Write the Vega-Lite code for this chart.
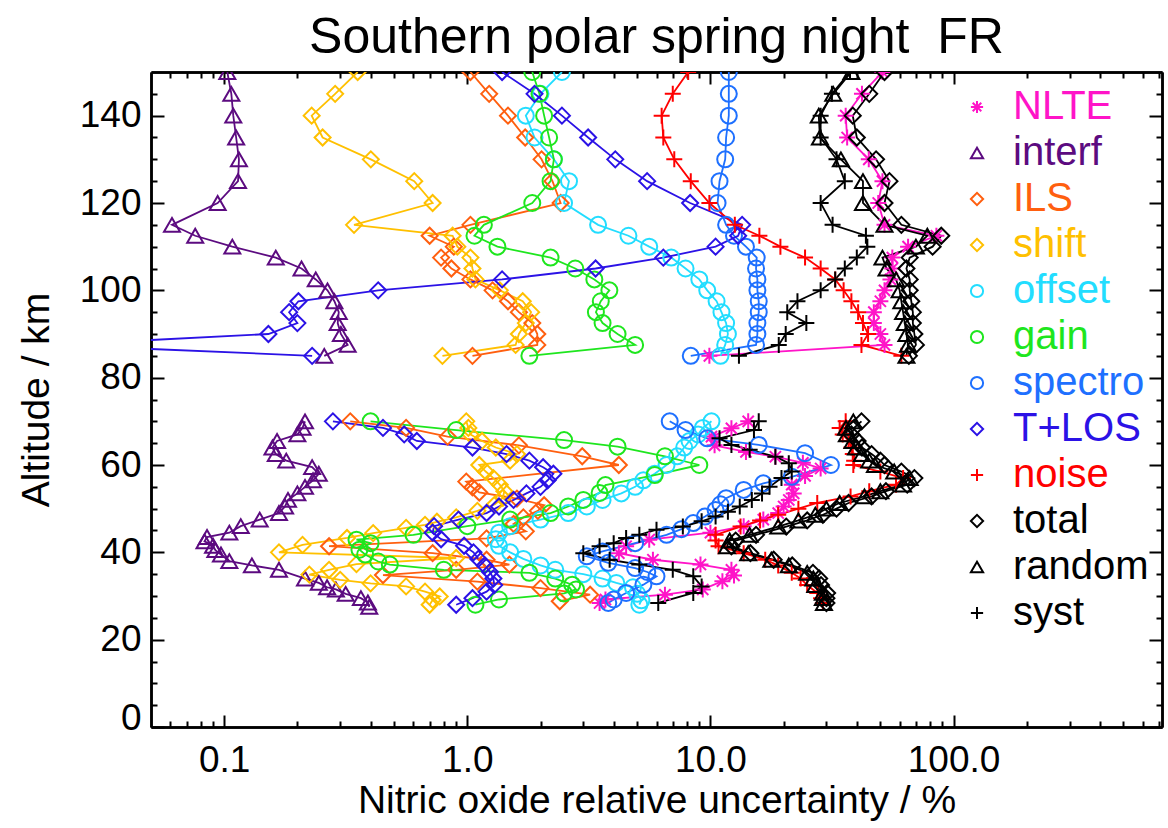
{
"$schema": "https://vega.github.io/schema/vega-lite/v6.json",
"width": 1011, "height": 655,
"autosize": {"type": "none"},
"padding": {"left": 151, "top": 72, "right": 6, "bottom": 101},
"background": "white",
"title": {"text": "Southern polar spring night\u00a0 FR", "fontSize": 50, "font": "Liberation Sans", "fontWeight": "normal", "color": "black", "anchor": "middle", "offset": 8},
"config": {
  "view": {"stroke": null},
  "axis": {"labelFont": "Liberation Sans", "titleFont": "Liberation Sans", "labelFontSize": 37, "titleFontSize": 39, "titleFontWeight": "normal", "labelColor": "black", "titleColor": "black", "domainColor": "black", "tickColor": "black", "domainWidth": 2.5, "tickWidth": 2, "grid": false},
  "legend": {"orient": "none", "legendX": 806, "legendY": 15, "labelFont": "Liberation Sans", "labelFontSize": 40, "symbolSize": 150, "symbolStrokeWidth": 2, "rowPadding": 6, "labelOffset": 16, "labelLimit": 300, "padding": 0}
},
"datasets": {
"ax": [{"v": 1, "a": 50}],
"d": [
{"s":"NLTE","g":"u","a":150,"v":51},{"s":"NLTE","g":"u","a":145,"v":42},{"s":"NLTE","g":"u","a":140,"v":36},{"s":"NLTE","g":"u","a":135,"v":36.5},{"s":"NLTE","g":"u","a":130,"v":44.8},{"s":"NLTE","g":"u","a":125,"v":51},{"s":"NLTE","g":"u","a":120,"v":49},{"s":"NLTE","g":"u","a":115,"v":52},{"s":"NLTE","g":"u","a":112.5,"v":85},{"s":"NLTE","g":"u","a":110,"v":65},{"s":"NLTE","g":"u","a":107.5,"v":56},{"s":"NLTE","g":"u","a":105,"v":56},{"s":"NLTE","g":"u","a":102.5,"v":55},{"s":"NLTE","g":"u","a":100,"v":52},{"s":"NLTE","g":"u","a":97.5,"v":50},{"s":"NLTE","g":"u","a":95,"v":47},{"s":"NLTE","g":"u","a":92.5,"v":47},{"s":"NLTE","g":"u","a":90,"v":50},{"s":"NLTE","g":"u","a":87.5,"v":52},{"s":"NLTE","g":"u","a":85,"v":9.9},
{"s":"NLTE","g":"l","a":70,"v":14.3},{"s":"NLTE","g":"l","a":68.4,"v":12.2},{"s":"NLTE","g":"l","a":66.5,"v":10.1},{"s":"NLTE","g":"l","a":64.5,"v":10.4},{"s":"NLTE","g":"l","a":63,"v":14},{"s":"NLTE","g":"l","a":61.9,"v":18.5},{"s":"NLTE","g":"l","a":60.5,"v":24},{"s":"NLTE","g":"l","a":59.2,"v":28.4},{"s":"NLTE","g":"l","a":57.5,"v":24.5},{"s":"NLTE","g":"l","a":55.5,"v":21.6},{"s":"NLTE","g":"l","a":53.5,"v":22},{"s":"NLTE","g":"l","a":52,"v":21},{"s":"NLTE","g":"l","a":50.5,"v":20},{"s":"NLTE","g":"l","a":49,"v":19},{"s":"NLTE","g":"l","a":47.5,"v":16.5},{"s":"NLTE","g":"l","a":46,"v":13.7},{"s":"NLTE","g":"l","a":44.5,"v":10},{"s":"NLTE","g":"l","a":42.9,"v":5.6},{"s":"NLTE","g":"l","a":41.4,"v":4.5},{"s":"NLTE","g":"l","a":39.8,"v":4.2},{"s":"NLTE","g":"l","a":38.3,"v":5.8},{"s":"NLTE","g":"l","a":37.2,"v":9.1},{"s":"NLTE","g":"l","a":36,"v":12.2},{"s":"NLTE","g":"l","a":34.7,"v":12.5},{"s":"NLTE","g":"l","a":33.4,"v":11.2},{"s":"NLTE","g":"l","a":31.5,"v":9.3},{"s":"NLTE","g":"l","a":30.3,"v":6.5},{"s":"NLTE","g":"l","a":29.2,"v":3.7},{"s":"NLTE","g":"l","a":28.4,"v":3.5},
{"s":"interf","g":"u","a":150,"v":0.103},{"s":"interf","g":"u","a":145,"v":0.107},{"s":"interf","g":"u","a":140,"v":0.109},{"s":"interf","g":"u","a":135,"v":0.112},{"s":"interf","g":"u","a":130,"v":0.115},{"s":"interf","g":"u","a":125,"v":0.114},{"s":"interf","g":"u","a":120,"v":0.094},{"s":"interf","g":"u","a":115,"v":0.061},{"s":"interf","g":"u","a":112.5,"v":0.076},{"s":"interf","g":"u","a":110,"v":0.108},{"s":"interf","g":"u","a":107.5,"v":0.163},{"s":"interf","g":"u","a":105,"v":0.208},{"s":"interf","g":"u","a":102.5,"v":0.238},{"s":"interf","g":"u","a":100,"v":0.266},{"s":"interf","g":"u","a":97.5,"v":0.284},{"s":"interf","g":"u","a":95,"v":0.296},{"s":"interf","g":"u","a":92.5,"v":0.293},{"s":"interf","g":"u","a":90,"v":0.302},{"s":"interf","g":"u","a":87.5,"v":0.322},{"s":"interf","g":"u","a":85,"v":0.258},
{"s":"interf","g":"l","a":70,"v":0.215},{"s":"interf","g":"l","a":68.5,"v":0.21},{"s":"interf","g":"l","a":67,"v":0.2},{"s":"interf","g":"l","a":65.5,"v":0.165},{"s":"interf","g":"l","a":64,"v":0.158},{"s":"interf","g":"l","a":62.5,"v":0.163},{"s":"interf","g":"l","a":61,"v":0.18},{"s":"interf","g":"l","a":59.5,"v":0.23},{"s":"interf","g":"l","a":58,"v":0.245},{"s":"interf","g":"l","a":56.5,"v":0.232},{"s":"interf","g":"l","a":55,"v":0.215},{"s":"interf","g":"l","a":53.5,"v":0.2},{"s":"interf","g":"l","a":52,"v":0.183},{"s":"interf","g":"l","a":50.5,"v":0.178},{"s":"interf","g":"l","a":49,"v":0.168},{"s":"interf","g":"l","a":47.5,"v":0.14},{"s":"interf","g":"l","a":46,"v":0.117},{"s":"interf","g":"l","a":44.5,"v":0.105},{"s":"interf","g":"l","a":43.5,"v":0.085},{"s":"interf","g":"l","a":42.5,"v":0.083},{"s":"interf","g":"l","a":41.5,"v":0.09},{"s":"interf","g":"l","a":40.5,"v":0.092},{"s":"interf","g":"l","a":39.5,"v":0.097},{"s":"interf","g":"l","a":38,"v":0.105},{"s":"interf","g":"l","a":37,"v":0.13},{"s":"interf","g":"l","a":36,"v":0.168},{"s":"interf","g":"l","a":34,"v":0.215},{"s":"interf","g":"l","a":33,"v":0.245},{"s":"interf","g":"l","a":32,"v":0.265},{"s":"interf","g":"l","a":31.5,"v":0.288},{"s":"interf","g":"l","a":30.5,"v":0.316},{"s":"interf","g":"l","a":29.5,"v":0.365},{"s":"interf","g":"l","a":28.5,"v":0.39},{"s":"interf","g":"l","a":27.5,"v":0.395},
{"s":"ILS","g":"u","a":150,"v":1.03},{"s":"ILS","g":"u","a":145,"v":1.23},{"s":"ILS","g":"u","a":140,"v":1.47},{"s":"ILS","g":"u","a":135,"v":1.73},{"s":"ILS","g":"u","a":130,"v":2.02},{"s":"ILS","g":"u","a":125,"v":2.24},{"s":"ILS","g":"u","a":120,"v":2.42},{"s":"ILS","g":"u","a":115,"v":1.03},{"s":"ILS","g":"u","a":112.5,"v":0.7},{"s":"ILS","g":"u","a":110,"v":0.88},{"s":"ILS","g":"u","a":107.5,"v":0.78},{"s":"ILS","g":"u","a":105,"v":0.86},{"s":"ILS","g":"u","a":102.5,"v":1.03},{"s":"ILS","g":"u","a":100,"v":1.27},{"s":"ILS","g":"u","a":97.5,"v":1.47},{"s":"ILS","g":"u","a":95,"v":1.63},{"s":"ILS","g":"u","a":92.5,"v":1.85},{"s":"ILS","g":"u","a":90,"v":1.94},{"s":"ILS","g":"u","a":87.5,"v":1.94},{"s":"ILS","g":"u","a":85,"v":1.05},
{"s":"ILS","g":"l","a":70,"v":0.33},{"s":"ILS","g":"l","a":68.5,"v":0.56},{"s":"ILS","g":"l","a":66.5,"v":0.83},{"s":"ILS","g":"l","a":64.5,"v":1.63},{"s":"ILS","g":"l","a":62,"v":2.97},{"s":"ILS","g":"l","a":60,"v":4.2},{"s":"ILS","g":"l","a":56.2,"v":0.99},{"s":"ILS","g":"l","a":54.9,"v":1.05},{"s":"ILS","g":"l","a":53.7,"v":1.12},{"s":"ILS","g":"l","a":52.3,"v":1.6},{"s":"ILS","g":"l","a":50.8,"v":2.07},{"s":"ILS","g":"l","a":49.5,"v":1.95},{"s":"ILS","g":"l","a":48,"v":1.7},{"s":"ILS","g":"l","a":46.5,"v":1.55},{"s":"ILS","g":"l","a":44.8,"v":1.74},{"s":"ILS","g":"l","a":43.2,"v":1.2},{"s":"ILS","g":"l","a":41.4,"v":0.27},{"s":"ILS","g":"l","a":39.8,"v":0.72},{"s":"ILS","g":"l","a":38.3,"v":1.2},{"s":"ILS","g":"l","a":37.2,"v":1.49},{"s":"ILS","g":"l","a":36,"v":0.9},{"s":"ILS","g":"l","a":34.8,"v":0.45},{"s":"ILS","g":"l","a":33.3,"v":1.1},{"s":"ILS","g":"l","a":31.8,"v":2.0},{"s":"ILS","g":"l","a":30.3,"v":3.2},{"s":"ILS","g":"l","a":28.8,"v":2.4},
{"s":"shift","g":"u","a":150,"v":0.354},{"s":"shift","g":"u","a":145,"v":0.286},{"s":"shift","g":"u","a":140,"v":0.229},{"s":"shift","g":"u","a":135,"v":0.254},{"s":"shift","g":"u","a":130,"v":0.401},{"s":"shift","g":"u","a":125,"v":0.605},{"s":"shift","g":"u","a":120,"v":0.72},{"s":"shift","g":"u","a":115,"v":0.342},{"s":"shift","g":"u","a":112.5,"v":0.87},{"s":"shift","g":"u","a":110,"v":0.91},{"s":"shift","g":"u","a":107.5,"v":1.03},{"s":"shift","g":"u","a":105,"v":1.05},{"s":"shift","g":"u","a":102.5,"v":1.08},{"s":"shift","g":"u","a":100,"v":1.36},{"s":"shift","g":"u","a":97.5,"v":1.69},{"s":"shift","g":"u","a":95,"v":1.83},{"s":"shift","g":"u","a":92.5,"v":1.74},{"s":"shift","g":"u","a":90,"v":1.63},{"s":"shift","g":"u","a":87.5,"v":1.58},{"s":"shift","g":"u","a":85,"v":0.79},
{"s":"shift","g":"l","a":70,"v":0.99},{"s":"shift","g":"l","a":68.5,"v":1.01},{"s":"shift","g":"l","a":67,"v":1.03},{"s":"shift","g":"l","a":65.5,"v":1.15},{"s":"shift","g":"l","a":64,"v":1.31},{"s":"shift","g":"l","a":62.5,"v":1.6},{"s":"shift","g":"l","a":61,"v":1.5},{"s":"shift","g":"l","a":60,"v":1.12},{"s":"shift","g":"l","a":58.5,"v":1.19},{"s":"shift","g":"l","a":57,"v":1.28},{"s":"shift","g":"l","a":55.5,"v":1.36},{"s":"shift","g":"l","a":54,"v":1.42},{"s":"shift","g":"l","a":52.5,"v":1.4},{"s":"shift","g":"l","a":51,"v":1.3},{"s":"shift","g":"l","a":49.5,"v":1.1},{"s":"shift","g":"l","a":48,"v":0.9},{"s":"shift","g":"l","a":47,"v":0.75},{"s":"shift","g":"l","a":46.3,"v":0.67},{"s":"shift","g":"l","a":45.6,"v":0.56},{"s":"shift","g":"l","a":44.4,"v":0.41},{"s":"shift","g":"l","a":43.3,"v":0.32},{"s":"shift","g":"l","a":41.7,"v":0.21},{"s":"shift","g":"l","a":40,"v":0.168},{"s":"shift","g":"l","a":38.7,"v":0.9},{"s":"shift","g":"l","a":37.3,"v":0.35},{"s":"shift","g":"l","a":36,"v":0.27},{"s":"shift","g":"l","a":34.9,"v":0.224},{"s":"shift","g":"l","a":33.7,"v":0.3},{"s":"shift","g":"l","a":32.9,"v":0.4},{"s":"shift","g":"l","a":32.2,"v":0.56},{"s":"shift","g":"l","a":31,"v":0.67},{"s":"shift","g":"l","a":29.9,"v":0.77},{"s":"shift","g":"l","a":29.1,"v":0.72},{"s":"shift","g":"l","a":28,"v":0.7},
{"s":"offset","g":"u","a":150,"v":2.45},{"s":"offset","g":"u","a":145,"v":2.0},{"s":"offset","g":"u","a":140,"v":1.74},{"s":"offset","g":"u","a":135,"v":1.89},{"s":"offset","g":"u","a":130,"v":2.27},{"s":"offset","g":"u","a":125,"v":2.62},{"s":"offset","g":"u","a":120,"v":2.5},{"s":"offset","g":"u","a":115,"v":3.45},{"s":"offset","g":"u","a":112.5,"v":4.6},{"s":"offset","g":"u","a":110,"v":5.6},{"s":"offset","g":"u","a":107.5,"v":6.9},{"s":"offset","g":"u","a":105,"v":7.9},{"s":"offset","g":"u","a":102.5,"v":9.0},{"s":"offset","g":"u","a":100,"v":9.7},{"s":"offset","g":"u","a":97.5,"v":10.6},{"s":"offset","g":"u","a":95,"v":11.1},{"s":"offset","g":"u","a":92.5,"v":11.6},{"s":"offset","g":"u","a":90,"v":11.8},{"s":"offset","g":"u","a":87.5,"v":11.5},{"s":"offset","g":"u","a":85,"v":11.0},
{"s":"offset","g":"l","a":70,"v":10.1},{"s":"offset","g":"l","a":68.5,"v":9.3},{"s":"offset","g":"l","a":67,"v":8.9},{"s":"offset","g":"l","a":65.5,"v":8.2},{"s":"offset","g":"l","a":64,"v":7.8},{"s":"offset","g":"l","a":62,"v":7.3},{"s":"offset","g":"l","a":60,"v":6.6},{"s":"offset","g":"l","a":58,"v":5.9},{"s":"offset","g":"l","a":56.5,"v":5.3},{"s":"offset","g":"l","a":55,"v":4.9},{"s":"offset","g":"l","a":53.5,"v":4.3},{"s":"offset","g":"l","a":52,"v":3.6},{"s":"offset","g":"l","a":50.5,"v":3.1},{"s":"offset","g":"l","a":49,"v":2.6},{"s":"offset","g":"l","a":47.5,"v":2.0},{"s":"offset","g":"l","a":46,"v":1.5},{"s":"offset","g":"l","a":44.5,"v":1.35},{"s":"offset","g":"l","a":43,"v":1.31},{"s":"offset","g":"l","a":41.5,"v":1.35},{"s":"offset","g":"l","a":40,"v":1.5},{"s":"offset","g":"l","a":38.5,"v":1.7},{"s":"offset","g":"l","a":37,"v":2.0},{"s":"offset","g":"l","a":36,"v":2.3},{"s":"offset","g":"l","a":35,"v":3.0},{"s":"offset","g":"l","a":34,"v":3.6},{"s":"offset","g":"l","a":33,"v":4.1},{"s":"offset","g":"l","a":32,"v":4.8},{"s":"offset","g":"l","a":30.5,"v":5.0},{"s":"offset","g":"l","a":29,"v":5.2},{"s":"offset","g":"l","a":28,"v":5.1},
{"s":"gain","g":"u","a":150,"v":1.85},{"s":"gain","g":"u","a":145,"v":1.98},{"s":"gain","g":"u","a":140,"v":2.07},{"s":"gain","g":"u","a":135,"v":2.17},{"s":"gain","g":"u","a":130,"v":2.27},{"s":"gain","g":"u","a":125,"v":2.2},{"s":"gain","g":"u","a":120,"v":1.85},{"s":"gain","g":"u","a":115,"v":1.17},{"s":"gain","g":"u","a":112.5,"v":1.07},{"s":"gain","g":"u","a":110,"v":1.33},{"s":"gain","g":"u","a":107.5,"v":2.2},{"s":"gain","g":"u","a":105,"v":2.78},{"s":"gain","g":"u","a":102.5,"v":3.33},{"s":"gain","g":"u","a":100,"v":3.84},{"s":"gain","g":"u","a":97.5,"v":3.54},{"s":"gain","g":"u","a":95,"v":3.38},{"s":"gain","g":"u","a":92.5,"v":3.6},{"s":"gain","g":"u","a":90,"v":4.15},{"s":"gain","g":"u","a":87.5,"v":4.9},{"s":"gain","g":"u","a":85,"v":1.8},
{"s":"gain","g":"l","a":70,"v":0.4},{"s":"gain","g":"l","a":68,"v":0.9},{"s":"gain","g":"l","a":65.7,"v":2.5},{"s":"gain","g":"l","a":64.2,"v":4.15},{"s":"gain","g":"l","a":62,"v":6.5},{"s":"gain","g":"l","a":60,"v":9.0},{"s":"gain","g":"l","a":57.7,"v":5.9},{"s":"gain","g":"l","a":55.4,"v":3.7},{"s":"gain","g":"l","a":53.6,"v":3.5},{"s":"gain","g":"l","a":52,"v":3.0},{"s":"gain","g":"l","a":50.5,"v":2.6},{"s":"gain","g":"l","a":49,"v":2.2},{"s":"gain","g":"l","a":47.5,"v":1.5},{"s":"gain","g":"l","a":46,"v":1.0},{"s":"gain","g":"l","a":44,"v":0.6},{"s":"gain","g":"l","a":42.9,"v":0.35},{"s":"gain","g":"l","a":42.1,"v":0.4},{"s":"gain","g":"l","a":40.6,"v":0.36},{"s":"gain","g":"l","a":39.5,"v":0.38},{"s":"gain","g":"l","a":37.9,"v":0.43},{"s":"gain","g":"l","a":37.2,"v":0.48},{"s":"gain","g":"l","a":36,"v":0.8},{"s":"gain","g":"l","a":35.3,"v":1.8},{"s":"gain","g":"l","a":34,"v":2.3},{"s":"gain","g":"l","a":32.6,"v":2.7},{"s":"gain","g":"l","a":31.5,"v":2.8},{"s":"gain","g":"l","a":30.6,"v":2.5},{"s":"gain","g":"l","a":29.2,"v":1.35},{"s":"gain","g":"l","a":28,"v":1.08},
{"s":"spectro","g":"u","a":150,"v":11.9},{"s":"spectro","g":"u","a":145,"v":11.9},{"s":"spectro","g":"u","a":140,"v":11.9},{"s":"spectro","g":"u","a":135,"v":11.6},{"s":"spectro","g":"u","a":130,"v":11.5},{"s":"spectro","g":"u","a":125,"v":10.9},{"s":"spectro","g":"u","a":120,"v":10.7},{"s":"spectro","g":"u","a":115,"v":11.6},{"s":"spectro","g":"u","a":112.5,"v":12.5},{"s":"spectro","g":"u","a":110,"v":14.0},{"s":"spectro","g":"u","a":107.5,"v":15.5},{"s":"spectro","g":"u","a":105,"v":15.4},{"s":"spectro","g":"u","a":102.5,"v":15.6},{"s":"spectro","g":"u","a":100,"v":15.6},{"s":"spectro","g":"u","a":97.5,"v":15.8},{"s":"spectro","g":"u","a":95,"v":15.8},{"s":"spectro","g":"u","a":92.5,"v":15.6},{"s":"spectro","g":"u","a":90,"v":15.6},{"s":"spectro","g":"u","a":87.5,"v":15.4},{"s":"spectro","g":"u","a":85,"v":8.3},
{"s":"spectro","g":"l","a":70,"v":6.8},{"s":"spectro","g":"l","a":68,"v":7.9},{"s":"spectro","g":"l","a":66.1,"v":9.7},{"s":"spectro","g":"l","a":64.6,"v":15.8},{"s":"spectro","g":"l","a":62.7,"v":24.5},{"s":"spectro","g":"l","a":60,"v":31.3},{"s":"spectro","g":"l","a":57.3,"v":21.6},{"s":"spectro","g":"l","a":55.8,"v":16.5},{"s":"spectro","g":"l","a":54.3,"v":13.7},{"s":"spectro","g":"l","a":52.4,"v":11.6},{"s":"spectro","g":"l","a":51,"v":11.0},{"s":"spectro","g":"l","a":49.7,"v":10.5},{"s":"spectro","g":"l","a":48.2,"v":9.5},{"s":"spectro","g":"l","a":46.7,"v":8.5},{"s":"spectro","g":"l","a":45.3,"v":7.6},{"s":"spectro","g":"l","a":44,"v":6.6},{"s":"spectro","g":"l","a":42.1,"v":4.9},{"s":"spectro","g":"l","a":40.2,"v":3.6},{"s":"spectro","g":"l","a":39.1,"v":3.1},{"s":"spectro","g":"l","a":37.6,"v":3.8},{"s":"spectro","g":"l","a":36.4,"v":4.9},{"s":"spectro","g":"l","a":35.5,"v":5.5},{"s":"spectro","g":"l","a":34.5,"v":6.0},{"s":"spectro","g":"l","a":32.6,"v":5.3},{"s":"spectro","g":"l","a":30.7,"v":4.5},{"s":"spectro","g":"l","a":29.2,"v":4.0},{"s":"spectro","g":"l","a":28.4,"v":3.8},
{"s":"T+LOS","g":"u","a":150,"v":1.39},{"s":"T+LOS","g":"u","a":145,"v":1.89},{"s":"T+LOS","g":"u","a":140,"v":2.45},{"s":"T+LOS","g":"u","a":135,"v":3.14},{"s":"T+LOS","g":"u","a":130,"v":4.06},{"s":"T+LOS","g":"u","a":125,"v":5.49},{"s":"T+LOS","g":"u","a":120,"v":8.25},{"s":"T+LOS","g":"u","a":115,"v":13.5},{"s":"T+LOS","g":"u","a":112.5,"v":13.0},{"s":"T+LOS","g":"u","a":110,"v":10.5},{"s":"T+LOS","g":"u","a":107.5,"v":6.4},{"s":"T+LOS","g":"u","a":105,"v":3.37},{"s":"T+LOS","g":"u","a":102.5,"v":1.39},{"s":"T+LOS","g":"u","a":100,"v":0.43},{"s":"T+LOS","g":"u","a":97.5,"v":0.202},{"s":"T+LOS","g":"u","a":95,"v":0.185},{"s":"T+LOS","g":"u","a":92.5,"v":0.2},{"s":"T+LOS","g":"u","a":90,"v":0.152},{"s":"T+LOS","g":"u","a":87.5,"v":0.02},{"s":"T+LOS","g":"u","a":85,"v":0.23},
{"s":"T+LOS","g":"l","a":70,"v":0.28},{"s":"T+LOS","g":"l","a":68.5,"v":0.45},{"s":"T+LOS","g":"l","a":67,"v":0.55},{"s":"T+LOS","g":"l","a":65.5,"v":0.62},{"s":"T+LOS","g":"l","a":64,"v":1.05},{"s":"T+LOS","g":"l","a":62.5,"v":1.45},{"s":"T+LOS","g":"l","a":61,"v":1.8},{"s":"T+LOS","g":"l","a":59.5,"v":2.05},{"s":"T+LOS","g":"l","a":58,"v":2.26},{"s":"T+LOS","g":"l","a":56.5,"v":2.14},{"s":"T+LOS","g":"l","a":55,"v":2.0},{"s":"T+LOS","g":"l","a":53.5,"v":1.75},{"s":"T+LOS","g":"l","a":52,"v":1.55},{"s":"T+LOS","g":"l","a":50.5,"v":1.35},{"s":"T+LOS","g":"l","a":49,"v":1.2},{"s":"T+LOS","g":"l","a":47.5,"v":0.92},{"s":"T+LOS","g":"l","a":46,"v":0.73},{"s":"T+LOS","g":"l","a":44.5,"v":0.72},{"s":"T+LOS","g":"l","a":43,"v":0.78},{"s":"T+LOS","g":"l","a":41.5,"v":0.97},{"s":"T+LOS","g":"l","a":40,"v":1.06},{"s":"T+LOS","g":"l","a":38.5,"v":1.11},{"s":"T+LOS","g":"l","a":37,"v":1.18},{"s":"T+LOS","g":"l","a":35.5,"v":1.24},{"s":"T+LOS","g":"l","a":34,"v":1.28},{"s":"T+LOS","g":"l","a":32.5,"v":1.29},{"s":"T+LOS","g":"l","a":31,"v":1.2},{"s":"T+LOS","g":"l","a":29.5,"v":1.05},{"s":"T+LOS","g":"l","a":28,"v":0.9},
{"s":"noise","g":"u","a":150,"v":8.1},{"s":"noise","g":"u","a":145,"v":7.0},{"s":"noise","g":"u","a":140,"v":6.3},{"s":"noise","g":"u","a":135,"v":6.4},{"s":"noise","g":"u","a":130,"v":7.1},{"s":"noise","g":"u","a":125,"v":8.3},{"s":"noise","g":"u","a":120,"v":9.9},{"s":"noise","g":"u","a":115,"v":12.6},{"s":"noise","g":"u","a":112.5,"v":15.9},{"s":"noise","g":"u","a":110,"v":19.4},{"s":"noise","g":"u","a":107.5,"v":24.5},{"s":"noise","g":"u","a":105,"v":28.4},{"s":"noise","g":"u","a":102.5,"v":32.6},{"s":"noise","g":"u","a":100,"v":35.3},{"s":"noise","g":"u","a":97.5,"v":38},{"s":"noise","g":"u","a":95,"v":40.5},{"s":"noise","g":"u","a":92.5,"v":42.4},{"s":"noise","g":"u","a":90,"v":44.5},{"s":"noise","g":"u","a":87.5,"v":41.8},{"s":"noise","g":"u","a":85,"v":61},
{"s":"noise","g":"l","a":70,"v":36},{"s":"noise","g":"l","a":68.5,"v":34},{"s":"noise","g":"l","a":67,"v":35},{"s":"noise","g":"l","a":65.5,"v":37},{"s":"noise","g":"l","a":64,"v":38},{"s":"noise","g":"l","a":62.5,"v":38.5},{"s":"noise","g":"l","a":61,"v":39},{"s":"noise","g":"l","a":60,"v":38.7},{"s":"noise","g":"l","a":58.5,"v":50},{"s":"noise","g":"l","a":57,"v":62},{"s":"noise","g":"l","a":55.5,"v":58},{"s":"noise","g":"l","a":54,"v":45},{"s":"noise","g":"l","a":52.8,"v":37.7},{"s":"noise","g":"l","a":51.3,"v":27.5},{"s":"noise","g":"l","a":50,"v":23},{"s":"noise","g":"l","a":48.6,"v":19},{"s":"noise","g":"l","a":47.3,"v":16},{"s":"noise","g":"l","a":45.9,"v":13.3},{"s":"noise","g":"l","a":44,"v":10.5},{"s":"noise","g":"l","a":42.7,"v":10.5},{"s":"noise","g":"l","a":41.4,"v":10.8},{"s":"noise","g":"l","a":39.8,"v":13.7},{"s":"noise","g":"l","a":38.3,"v":16.8},{"s":"noise","g":"l","a":37,"v":19},{"s":"noise","g":"l","a":35.3,"v":21.6},{"s":"noise","g":"l","a":34,"v":23.5},{"s":"noise","g":"l","a":32.5,"v":25},{"s":"noise","g":"l","a":30.7,"v":27.5},{"s":"noise","g":"l","a":29.5,"v":28.5},{"s":"noise","g":"l","a":28.4,"v":29},
{"s":"total","g":"u","a":150,"v":52},{"s":"total","g":"u","a":145,"v":45},{"s":"total","g":"u","a":140,"v":38.5},{"s":"total","g":"u","a":135,"v":40},{"s":"total","g":"u","a":130,"v":48},{"s":"total","g":"u","a":125,"v":54.5},{"s":"total","g":"u","a":120,"v":52},{"s":"total","g":"u","a":115,"v":61},{"s":"total","g":"u","a":112.5,"v":89},{"s":"total","g":"u","a":110,"v":82},{"s":"total","g":"u","a":107.5,"v":66},{"s":"total","g":"u","a":105,"v":64},{"s":"total","g":"u","a":102.5,"v":66},{"s":"total","g":"u","a":100,"v":66},{"s":"total","g":"u","a":97.5,"v":67},{"s":"total","g":"u","a":95,"v":68},{"s":"total","g":"u","a":92.5,"v":68},{"s":"total","g":"u","a":90,"v":69},{"s":"total","g":"u","a":87.5,"v":70},{"s":"total","g":"u","a":85,"v":65.5},
{"s":"total","g":"l","a":70,"v":41.8},{"s":"total","g":"l","a":68.5,"v":39},{"s":"total","g":"l","a":67,"v":38},{"s":"total","g":"l","a":65.5,"v":40.3},{"s":"total","g":"l","a":64,"v":42},{"s":"total","g":"l","a":62.5,"v":46},{"s":"total","g":"l","a":61,"v":50},{"s":"total","g":"l","a":60,"v":52},{"s":"total","g":"l","a":58.5,"v":61},{"s":"total","g":"l","a":57,"v":69},{"s":"total","g":"l","a":55.5,"v":64.5},{"s":"total","g":"l","a":54,"v":52.7},{"s":"total","g":"l","a":52.8,"v":46},{"s":"total","g":"l","a":51.3,"v":37},{"s":"total","g":"l","a":50,"v":33},{"s":"total","g":"l","a":48.6,"v":29},{"s":"total","g":"l","a":47.3,"v":25},{"s":"total","g":"l","a":45.9,"v":20.5},{"s":"total","g":"l","a":44,"v":15.4},{"s":"total","g":"l","a":42.7,"v":12.7},{"s":"total","g":"l","a":41.4,"v":12.2},{"s":"total","g":"l","a":39.8,"v":14.6},{"s":"total","g":"l","a":38.3,"v":18.2},{"s":"total","g":"l","a":37,"v":21.7},{"s":"total","g":"l","a":35.3,"v":26.4},{"s":"total","g":"l","a":34,"v":28},{"s":"total","g":"l","a":32.5,"v":28.5},{"s":"total","g":"l","a":30.7,"v":30.2},{"s":"total","g":"l","a":29.5,"v":30},{"s":"total","g":"l","a":28.4,"v":30},
{"s":"random","g":"u","a":150,"v":38},{"s":"random","g":"u","a":145,"v":32},{"s":"random","g":"u","a":140,"v":27.9},{"s":"random","g":"u","a":135,"v":28.2},{"s":"random","g":"u","a":130,"v":34.4},{"s":"random","g":"u","a":125,"v":42.4},{"s":"random","g":"u","a":120,"v":42.4},{"s":"random","g":"u","a":115,"v":52},{"s":"random","g":"u","a":112.5,"v":78},{"s":"random","g":"u","a":110,"v":70},{"s":"random","g":"u","a":107.5,"v":51},{"s":"random","g":"u","a":105,"v":53},{"s":"random","g":"u","a":102.5,"v":58},{"s":"random","g":"u","a":100,"v":60},{"s":"random","g":"u","a":97.5,"v":61},{"s":"random","g":"u","a":95,"v":62},{"s":"random","g":"u","a":92.5,"v":63},{"s":"random","g":"u","a":90,"v":64},{"s":"random","g":"u","a":87.5,"v":65},{"s":"random","g":"u","a":85,"v":64},
{"s":"random","g":"l","a":70,"v":38.7},{"s":"random","g":"l","a":68.5,"v":36.1},{"s":"random","g":"l","a":67,"v":36.4},{"s":"random","g":"l","a":65.5,"v":38.4},{"s":"random","g":"l","a":64,"v":39.7},{"s":"random","g":"l","a":62.5,"v":42},{"s":"random","g":"l","a":61,"v":45},{"s":"random","g":"l","a":60,"v":47.5},{"s":"random","g":"l","a":58.5,"v":57},{"s":"random","g":"l","a":57,"v":66},{"s":"random","g":"l","a":55.5,"v":62},{"s":"random","g":"l","a":54,"v":50},{"s":"random","g":"l","a":52.8,"v":43},{"s":"random","g":"l","a":51.3,"v":34},{"s":"random","g":"l","a":50,"v":30},{"s":"random","g":"l","a":48.6,"v":27},{"s":"random","g":"l","a":47.3,"v":23},{"s":"random","g":"l","a":45.9,"v":19},{"s":"random","g":"l","a":44,"v":14.5},{"s":"random","g":"l","a":42.7,"v":12},{"s":"random","g":"l","a":41.4,"v":11.7},{"s":"random","g":"l","a":39.8,"v":14.3},{"s":"random","g":"l","a":38.3,"v":17.8},{"s":"random","g":"l","a":37,"v":21},{"s":"random","g":"l","a":35.3,"v":25},{"s":"random","g":"l","a":34,"v":26.5},{"s":"random","g":"l","a":32.5,"v":27},{"s":"random","g":"l","a":30.7,"v":29},{"s":"random","g":"l","a":29.5,"v":29},{"s":"random","g":"l","a":28.4,"v":29.3},
{"s":"syst","g":"u","a":150,"v":37.5},{"s":"syst","g":"u","a":145,"v":31.6},{"s":"syst","g":"u","a":140,"v":28.4},{"s":"syst","g":"u","a":135,"v":28.4},{"s":"syst","g":"u","a":130,"v":33},{"s":"syst","g":"u","a":125,"v":35.7},{"s":"syst","g":"u","a":120,"v":28.4},{"s":"syst","g":"u","a":115,"v":31.8},{"s":"syst","g":"u","a":112.5,"v":43.6},{"s":"syst","g":"u","a":110,"v":44.2},{"s":"syst","g":"u","a":107.5,"v":40},{"s":"syst","g":"u","a":105,"v":35.7},{"s":"syst","g":"u","a":102.5,"v":32.6},{"s":"syst","g":"u","a":100,"v":28.4},{"s":"syst","g":"u","a":97.5,"v":22.8},{"s":"syst","g":"u","a":95,"v":20.7},{"s":"syst","g":"u","a":92.5,"v":24.8},{"s":"syst","g":"u","a":90,"v":20.4},{"s":"syst","g":"u","a":87.5,"v":19.1},{"s":"syst","g":"u","a":85,"v":13.1},
{"s":"syst","g":"l","a":70,"v":15.8},{"s":"syst","g":"l","a":68,"v":15.1},{"s":"syst","g":"l","a":66.1,"v":10.9},{"s":"syst","g":"l","a":64.6,"v":12.2},{"s":"syst","g":"l","a":63.5,"v":14.5},{"s":"syst","g":"l","a":61.9,"v":18.5},{"s":"syst","g":"l","a":60.4,"v":21},{"s":"syst","g":"l","a":58.5,"v":21.6},{"s":"syst","g":"l","a":57,"v":19.6},{"s":"syst","g":"l","a":55,"v":17.5},{"s":"syst","g":"l","a":53.5,"v":16.3},{"s":"syst","g":"l","a":52,"v":14.8},{"s":"syst","g":"l","a":50.5,"v":13.2},{"s":"syst","g":"l","a":49.3,"v":11.8},{"s":"syst","g":"l","a":48.2,"v":10.5},{"s":"syst","g":"l","a":47.1,"v":9.2},{"s":"syst","g":"l","a":45.9,"v":7.7},{"s":"syst","g":"l","a":45.2,"v":6.0},{"s":"syst","g":"l","a":44,"v":5.1},{"s":"syst","g":"l","a":43.3,"v":4.5},{"s":"syst","g":"l","a":42.1,"v":4.0},{"s":"syst","g":"l","a":41.4,"v":3.5},{"s":"syst","g":"l","a":39.8,"v":3.0},{"s":"syst","g":"l","a":38.3,"v":3.85},{"s":"syst","g":"l","a":37.2,"v":5.1},{"s":"syst","g":"l","a":36,"v":7.0},{"s":"syst","g":"l","a":34.5,"v":8.5},{"s":"syst","g":"l","a":32.2,"v":9.2},{"s":"syst","g":"l","a":30.7,"v":8.5},{"s":"syst","g":"l","a":28.4,"v":6.1}
]},
"layer": [
{
  "data": {"name": "d"},
  "mark": {"type": "line", "strokeWidth": 1.8, "clip": true},
  "encoding": {
    "x": {"field": "v", "type": "quantitative", "scale": {"type": "log", "domain": [0.05, 720], "nice": false}, "axis": null},
    "y": {"field": "a", "type": "quantitative", "scale": {"domain": [0, 150], "nice": false, "zero": false}, "axis": null},
    "color": {"field": "s", "type": "nominal", "title": null,
      "scale": {"domain": ["NLTE","interf","ILS","shift","offset","gain","spectro","T+LOS","noise","total","random","syst"], "range": ["#ff14c8","#5c0b80","#ff5f0f","#ffc000","#22ddff","#1ee61e","#1e70ff","#2b12e6","#ff0000","#000000","#000000","#000000"]}},
    "detail": {"field": "g"},
    "order": {"field": "a", "type": "quantitative"}
  }
},
{
  "data": {"name": "d"},
  "mark": {"type": "point", "filled": false, "strokeWidth": 2, "size": 256, "clip": true, "opacity": 1},
  "encoding": {
    "x": {"field": "v", "type": "quantitative", "scale": {"type": "log", "domain": [0.05, 720], "nice": false},
      "axis": {"orient": "bottom", "values": [0.1, 1, 10, 100], "labelExpr": "datum.value < 1 ? '0.1' : format(datum.value, '.1f')", "tickSize": -12, "labelPadding": 27, "title": "Nitric oxide relative uncertainty / %", "titlePadding": 3, "labelFlush": false}},
    "y": {"field": "a", "type": "quantitative", "scale": {"domain": [0, 150], "nice": false, "zero": false},
      "axis": {"orient": "left", "values": [0, 20, 40, 60, 80, 100, 120, 140], "tickSize": -13, "labelPadding": 23, "title": "Altitude / km", "titlePadding": 23, "labelFlush": true, "labelFlushOffset": 10}},
    "color": {"field": "s", "type": "nominal", "title": null,
      "scale": {"domain": ["NLTE","interf","ILS","shift","offset","gain","spectro","T+LOS","noise","total","random","syst"], "range": ["#ff14c8","#5c0b80","#ff5f0f","#ffc000","#22ddff","#1ee61e","#1e70ff","#2b12e6","#ff0000","#000000","#000000","#000000"]},
      "legend": {"labelColor": {"expr": "scale('color', datum.value)"}}},
    "shape": {"field": "s", "type": "nominal", "title": null,
      "scale": {"domain": ["NLTE","interf","ILS","shift","offset","gain","spectro","T+LOS","noise","total","random","syst"], "range": ["M-1,0L1,0M0,-1L0,1M-0.7,-0.7L0.7,0.7M-0.7,0.7L0.7,-0.7","triangle-up","diamond","diamond","circle","circle","circle","diamond","M-1,0L1,0M0,-1L0,1","diamond","triangle-up","M-1,0L1,0M0,-1L0,1"]},
      "legend": {"labelColor": {"expr": "scale('color', datum.value)"}}}
  }
},
{
  "data": {"name": "ax"},
  "mark": {"type": "point", "opacity": 0},
  "encoding": {
    "x": {"field": "v", "type": "quantitative", "scale": {"type": "log", "domain": [0.05, 720], "nice": false},
      "axis": {"orient": "bottom", "values": [0.06,0.07,0.08,0.09,0.2,0.3,0.4,0.5,0.6,0.7,0.8,0.9,2,3,4,5,6,7,8,9,20,30,40,50,60,70,80,90,200,300,400,500,600,700], "tickSize": -6, "labels": false, "title": null}},
    "y": {"field": "a", "type": "quantitative", "scale": {"domain": [0, 150], "nice": false, "zero": false},
      "axis": {"orient": "left", "values": [5,10,15,25,30,35,45,50,55,65,70,75,85,90,95,105,110,115,125,130,135,145], "tickSize": -6, "labels": false, "title": null}}
  }
},
{
  "data": {"name": "ax"},
  "mark": {"type": "point", "opacity": 0},
  "encoding": {
    "x": {"field": "v", "type": "quantitative", "scale": {"type": "log", "domain": [0.05, 720], "nice": false},
      "axis": {"orient": "top", "values": [0.1, 1, 10, 100], "tickSize": -12, "labels": false, "title": null}},
    "y": {"field": "a", "type": "quantitative", "scale": {"domain": [0, 150], "nice": false, "zero": false},
      "axis": {"orient": "right", "values": [0, 20, 40, 60, 80, 100, 120, 140], "tickSize": -13, "labels": false, "title": null}}
  }
},
{
  "data": {"name": "ax"},
  "mark": {"type": "point", "opacity": 0},
  "encoding": {
    "x": {"field": "v", "type": "quantitative", "scale": {"type": "log", "domain": [0.05, 720], "nice": false},
      "axis": {"orient": "top", "values": [0.06,0.07,0.08,0.09,0.2,0.3,0.4,0.5,0.6,0.7,0.8,0.9,2,3,4,5,6,7,8,9,20,30,40,50,60,70,80,90,200,300,400,500,600,700], "tickSize": -6, "labels": false, "title": null}},
    "y": {"field": "a", "type": "quantitative", "scale": {"domain": [0, 150], "nice": false, "zero": false},
      "axis": {"orient": "right", "values": [5,10,15,25,30,35,45,50,55,65,70,75,85,90,95,105,110,115,125,130,135,145], "tickSize": -6, "labels": false, "title": null}}
  }
}
],
"resolve": {"axis": {"x": "independent", "y": "independent"}}
}
